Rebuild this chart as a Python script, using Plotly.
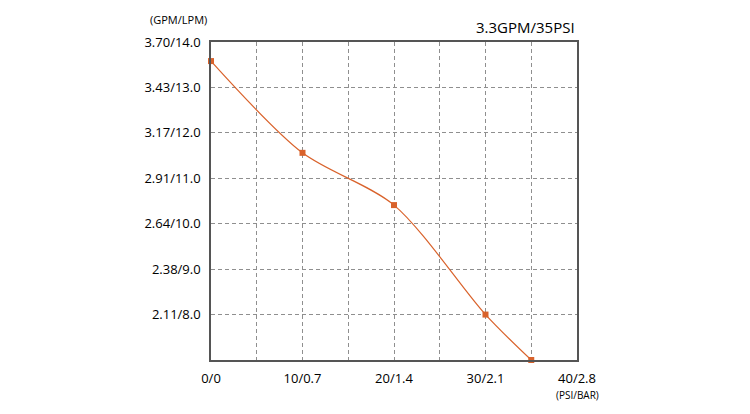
import plotly.graph_objects as go

# Data
psi = [0, 10, 20, 30, 35]
lpm = [13.58, 11.56, 10.41, 8.0, 7.0]

x_tickvals = [0, 5, 10, 15, 20, 25, 30, 35, 40]
x_ticktext = ["0/0", "", "10/0.7", "", "20/1.4", "", "30/2.1", "", "40/2.8"]
y_tickvals = [8, 9, 10, 11, 12, 13, 14]
y_ticktext = ["2.11/8.0", "2.38/9.0", "2.64/10.0", "2.91/11.0", "3.17/12.0", "3.43/13.0", "3.70/14.0"]

title_text = "3.3GPM/35PSI"
y_unit = "(GPM/LPM)"
x_unit = "(PSI/BAR)"

color = "#d9622b"
font_family = "Open Sans, Noto Sans, sans-serif"

fig = go.Figure()
fig.add_trace(go.Scatter(
    x=psi, y=lpm, mode="lines+markers",
    line=dict(color=color, width=1.2, shape="spline", smoothing=0.85),
    marker=dict(color=color, size=6, symbol="square"),
    cliponaxis=False, hoverinfo="skip",
))

fig.update_layout(
    width=750, height=414,
    margin=dict(l=203, r=181, t=34, b=62),
    paper_bgcolor="white", plot_bgcolor="white",
    showlegend=False,
    font=dict(family=font_family, color="#000", size=13),
    xaxis=dict(
        range=[0, 40], tickvals=x_tickvals, ticktext=x_ticktext,
        showgrid=True, gridcolor="#8f8f8f", griddash="4px,3px", gridwidth=1,
        showline=True, linecolor="#555", linewidth=1.5, mirror=True,
        zeroline=False, ticks="", ticklabelstandoff=6,
        tickfont=dict(size=13),
    ),
    yaxis=dict(
        range=[7, 14], tickvals=y_tickvals, ticktext=y_ticktext,
        showgrid=True, gridcolor="#8f8f8f", griddash="4px,3px", gridwidth=1,
        showline=True, linecolor="#555", linewidth=1.5, mirror=True,
        zeroline=False, ticks="", ticklabelstandoff=6,
        tickfont=dict(size=13),
    ),
    annotations=[
        dict(text=title_text, xref="paper", yref="paper", x=1.0, y=1.0,
             xanchor="right", yanchor="bottom", yshift=3, showarrow=False,
             font=dict(size=15, color="#000")),
        dict(text=y_unit, xref="paper", yref="paper", x=0.0, y=1.0,
             xanchor="right", yanchor="bottom", xshift=-2, yshift=13, showarrow=False,
             font=dict(size=11, color="#000")),
        dict(text=x_unit, xref="paper", yref="paper", x=1.0, y=0.0,
             xanchor="center", yanchor="top", xshift=0, yshift=-26, showarrow=False,
             font=dict(size=10, color="#000")),
    ],
)

fig.write_html("out.html")
